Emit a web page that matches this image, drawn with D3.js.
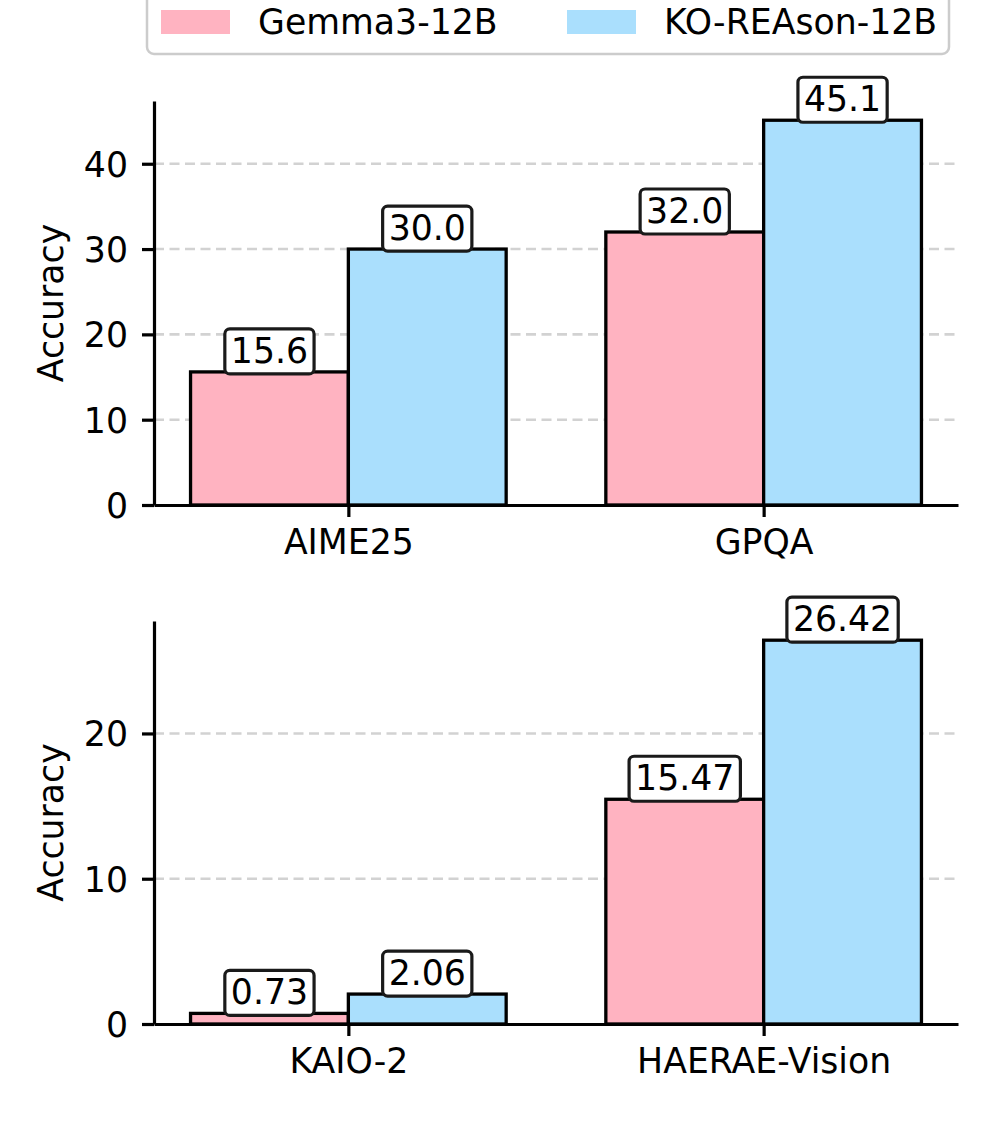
<!DOCTYPE html>
<html>
<head>
<meta charset="utf-8">
<script src="https://cdn.jsdelivr.net/npm/d3@7"></script>
<style>
  html, body { margin: 0; padding: 0; background: #fff; }
  svg { display: block; font-family: "DejaVu Sans", sans-serif; }
</style>
</head>
<body>
<svg id="chart" width="996" height="1121"></svg>
<script>
// ---- Data ----
const seriesNames = ["Gemma3-12B", "KO-REAson-12B"];
const seriesColors = ["#FFB3C1", "#AADFFD"];

const topCategories = ["AIME25", "GPQA"];
const topGemma = [15.6, 32.0];
const topKoreason = [30.0, 45.1];
const topTicks = [0, 10, 20, 30, 40];

const bottomCategories = ["KAIO-2", "HAERAE-Vision"];
const bottomGemma = [0.73, 15.47];
const bottomKoreason = [2.06, 26.42];
const bottomTicks = [0, 10, 20];

const yLabel = "Accuracy";

// ---- Layout ----
const W = 996, H = 1121;
const FS = 34.7;
const svg = d3.select("#chart");
svg.append("rect").attr("width", W).attr("height", H).attr("fill", "#fff");

const barW = 0.38;
const xLeft = 154, xRight = 958;

function drawPanel(cfg) {
  const g = svg.append("g");
  const x = d3.scaleLinear().domain([-0.468, 1.468]).range([xLeft, xRight]);
  const ymax = d3.max(cfg.b) * 1.05;
  const y = d3.scaleLinear().domain([0, ymax]).range([cfg.bottom, cfg.top]);

  // grid
  g.append("g").selectAll("line").data(cfg.ticks.filter(t => t > 0)).join("line")
    .attr("x1", xLeft).attr("x2", xRight)
    .attr("y1", d => y(d)).attr("y2", d => y(d))
    .attr("stroke", "#d2d2d2").attr("stroke-width", 2.6)
    .attr("stroke-dasharray", "10,5.5");

  // bars
  const series = [cfg.a, cfg.b];
  series.forEach((vals, s) => {
    g.append("g").selectAll("rect").data(vals).join("rect")
      .attr("x", (d, i) => x(i - barW + s * barW))
      .attr("width", (d, i) => x(i + s * barW) - x(i - barW + s * barW))
      .attr("y", d => y(d))
      .attr("height", d => y(0) - y(d))
      .attr("fill", seriesColors[s])
      .attr("stroke", "#000").attr("stroke-width", 3.3);
  });

  // axes
  const yAxis = d3.axisLeft(y).tickValues(cfg.ticks).tickSize(12).tickPadding(14).tickSizeOuter(0);
  const ya = g.append("g").attr("transform", `translate(${xLeft},0)`).call(yAxis);
  const xAxis = d3.axisBottom(x).tickValues(cfg.cats.map((c, i) => i))
    .tickFormat(i => cfg.cats[i]).tickSize(12).tickPadding(11).tickSizeOuter(0);
  const xa = g.append("g").attr("transform", `translate(0,${cfg.bottom})`).call(xAxis);
  [ya, xa].forEach(a => {
    a.select(".domain").attr("stroke", "#000").attr("stroke-width", 3.2);
    a.selectAll(".tick line").attr("stroke", "#000").attr("stroke-width", 3.2);
    a.selectAll(".tick text").attr("fill", "#000").attr("font-size", FS)
      .attr("font-family", "DejaVu Sans");
  });
  ya.selectAll(".tick text").attr("dy", "0.36em");
  xa.selectAll(".tick text").attr("dy", "0.76em");

  // y label
  g.append("text")
    .attr("transform", `translate(63,${(cfg.top + cfg.bottom) / 2}) rotate(-90)`)
    .attr("text-anchor", "middle").attr("font-size", FS).attr("fill", "#000")
    .text(yLabel);

  // value labels
  series.forEach((vals, s) => {
    vals.forEach((v, i) => {
      const cx = (x(i - barW + s * barW) + x(i + s * barW)) / 2;
      const top = y(v);
      const lg = g.append("g");
      const t = lg.append("text")
        .attr("x", cx).attr("y", top - 9)
        .attr("text-anchor", "middle").attr("font-size", FS).attr("fill", "#000")
        .text(d3.format(cfg.fmt)(v));
      const tw = t.node().getComputedTextLength();
      lg.insert("rect", "text")
        .attr("x", cx - tw / 2 - 6).attr("width", tw + 12)
        .attr("y", top - 43).attr("height", 45)
        .attr("rx", 5).attr("ry", 5)
        .attr("fill", "#fff").attr("stroke", "#1a1a1a").attr("stroke-width", 3.2);
    });
  });
}

drawPanel({ cats: topCategories, a: topGemma, b: topKoreason, ticks: topTicks, top: 101, bottom: 505, fmt: ".1f" });
drawPanel({ cats: bottomCategories, a: bottomGemma, b: bottomKoreason, ticks: bottomTicks, top: 621, bottom: 1024, fmt: ".2f" });

// ---- Legend ----
const leg = svg.append("g");
leg.append("rect").attr("x", 147).attr("y", -12).attr("width", 802).attr("height", 66)
  .attr("rx", 7).attr("fill", "#fff").attr("stroke", "#cccccc").attr("stroke-width", 2.5);
const legX = [161, 567];
seriesNames.forEach((n, s) => {
  leg.append("rect").attr("x", legX[s]).attr("y", 10).attr("width", 69).attr("height", 24)
    .attr("fill", seriesColors[s]);
  leg.append("text").attr("x", legX[s] + 97).attr("y", 34)
    .attr("font-size", FS).attr("fill", "#000").text(n);
});
</script>
</body>
</html>
